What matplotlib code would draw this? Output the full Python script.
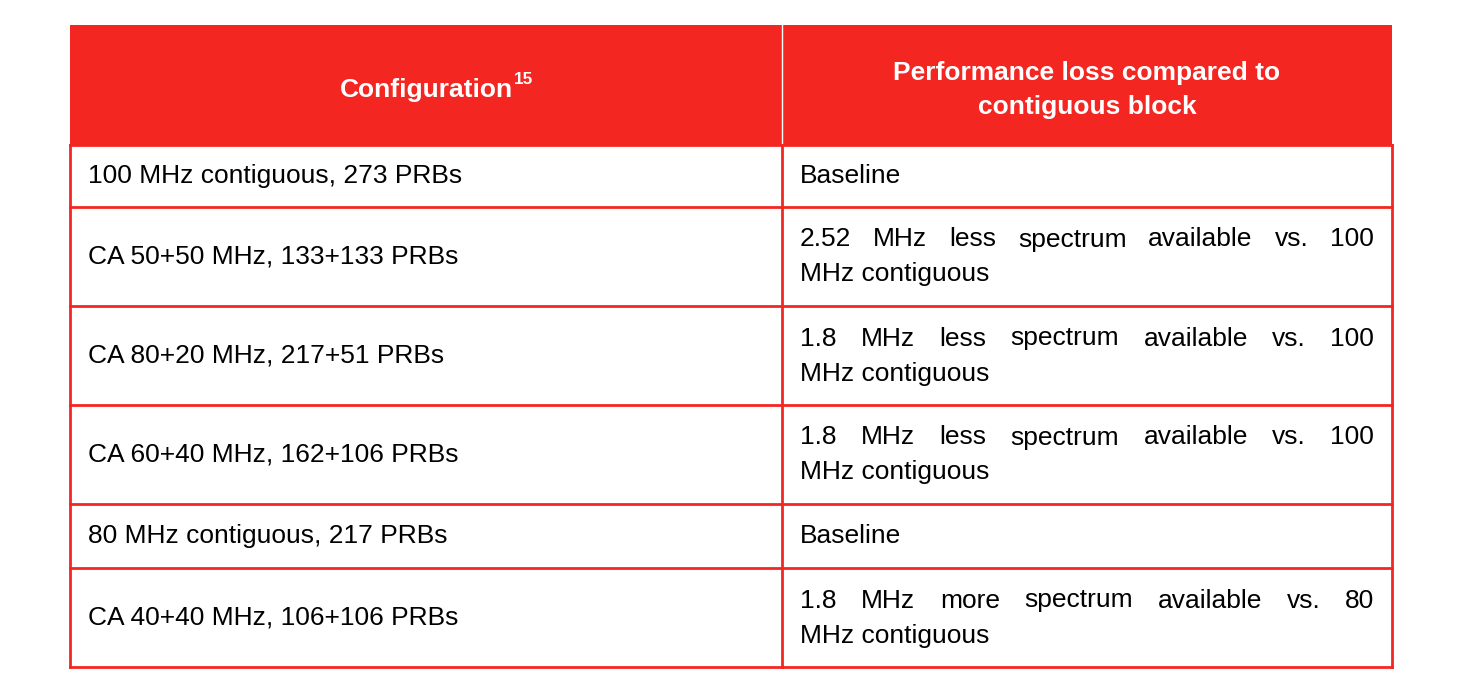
import matplotlib
matplotlib.use("Agg")
import matplotlib.pyplot as plt
from matplotlib.patches import Rectangle

RED = "#F42621"
header_left = "Configuration"
header_sup = "15"
header_right = ["Performance loss compared to", "contiguous block"]
configs = ["100 MHz contiguous, 273 PRBs", "CA 50+50 MHz, 133+133 PRBs",
           "CA 80+20 MHz, 217+51 PRBs", "CA 60+40 MHz, 162+106 PRBs",
           "80 MHz contiguous, 217 PRBs", "CA 40+40 MHz, 106+106 PRBs"]
losses = [["Baseline"],
          ["2.52 MHz less spectrum available vs. 100", "MHz contiguous"],
          ["1.8 MHz less spectrum available vs. 100", "MHz contiguous"],
          ["1.8 MHz less spectrum available vs. 100", "MHz contiguous"],
          ["Baseline"],
          ["1.8 MHz more spectrum available vs. 80", "MHz contiguous"]]

W, H = 1474, 698
L, M, R = 70, 782, 1392
TOP, HB = 25, 145
row_edges = [145, 207, 306, 405, 504, 568, 667]
FS = 19
FONT = "Liberation Sans"

fig = plt.figure(figsize=(W/100, H/100), dpi=100)
ax = fig.add_axes([0, 0, 1, 1])
ax.set_xlim(0, W); ax.set_ylim(H, 0); ax.axis("off")

ax.add_patch(Rectangle((L, TOP), R-L, HB-TOP, color=RED, lw=0))
ax.plot([M, M], [TOP, HB], color="white", lw=1)
t = ax.text(426, 90, header_left, color="white", fontsize=FS, fontweight="bold",
            family=FONT, ha="center", va="center")
fig.canvas.draw()
rend = fig.canvas.get_renderer()
bb = t.get_window_extent(rend)
ax.text(bb.x1 + 1, 80, header_sup, color="white", fontsize=FS*0.65, fontweight="bold",
        family=FONT, ha="left", va="center")
ax.text(1087, 73, header_right[0], color="white", fontsize=FS, fontweight="bold",
        family=FONT, ha="center", va="center")
ax.text(1087, 107, header_right[1], color="white", fontsize=FS, fontweight="bold",
        family=FONT, ha="center", va="center")

lw = 2
for y in row_edges:
    ax.plot([L, R], [y, y], color=RED, lw=lw)
for x in (L, M, R):
    ax.plot([x, x], [HB, row_edges[-1]], color=RED, lw=lw)

def justified(words, x0, x1, y):
    ws = []
    for w in words:
        tt = ax.text(0, 0, w, fontsize=FS, family=FONT)
        ws.append(tt.get_window_extent(rend).width)
        tt.remove()
    gap = (x1 - x0 - sum(ws)) / (len(words) - 1)
    x = x0
    for w, wd in zip(words, ws):
        ax.text(x, y, w, fontsize=FS, family=FONT, ha="left", va="center", color="black")
        x += wd + gap

for i, (c, lines) in enumerate(zip(configs, losses)):
    y0, y1 = row_edges[i], row_edges[i+1]
    yc = (y0 + y1) / 2
    ax.text(88, yc, c, fontsize=FS, family=FONT, ha="left", va="center", color="black")
    if len(lines) == 1:
        ax.text(800, yc, lines[0], fontsize=FS, family=FONT, ha="left", va="center")
    else:
        justified(lines[0].split(" "), 800, 1374, yc - 17)
        ax.text(800, yc + 18, lines[1], fontsize=FS, family=FONT, ha="left", va="center")

fig.savefig("out.png", dpi=100)
